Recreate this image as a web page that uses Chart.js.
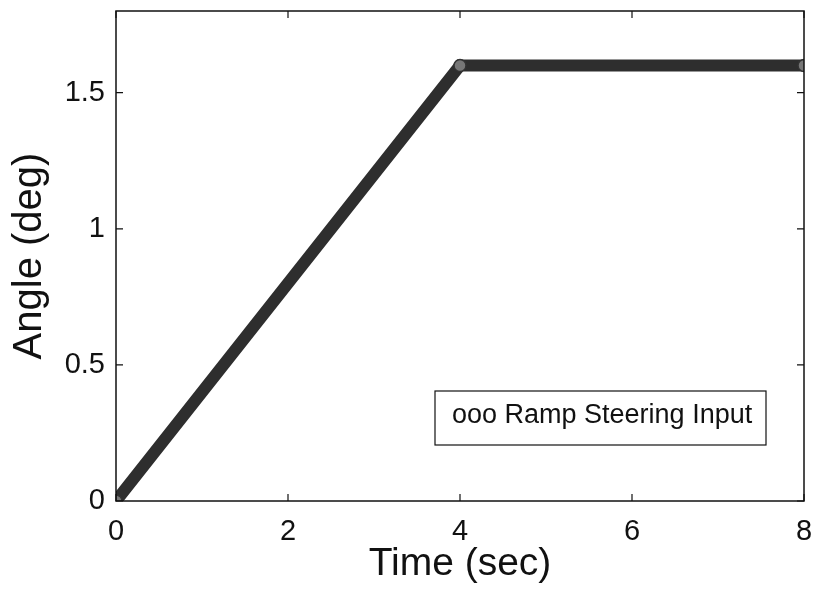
<!DOCTYPE html>
<html>
<head>
<meta charset="utf-8">
<script src="https://cdn.jsdelivr.net/npm/chart.js@4"></script>
<style>
  html, body { margin: 0; padding: 0; background: #fff; }
</style>
</head>
<body>
<canvas id="js-ramp" width="815" height="594"></canvas>
<script>
// breakpoints of the ramp steering input
const timeSec = [0, 4, 8];
const angleDeg = [0, 1.6, 1.6];
const xTicks = [0, 2, 4, 6, 8];
const yTicks = [0, 0.5, 1, 1.5];
const legendText = 'ooo Ramp Steering Input';

const fontFamily = '"Liberation Sans", Arial, Helvetica, sans-serif';

const points = timeSec.map((t, i) => ({ x: t, y: angleDeg[i] }));

// MATLAB style box, inward ticks and the legend box
const boxPlugin = {
  id: 'box',
  afterDraw(chart) {
    const { ctx, chartArea: a, scales } = chart;
    ctx.save();
    ctx.strokeStyle = '#111';
    ctx.lineWidth = 1.5;
    ctx.strokeRect(a.left, a.top, a.right - a.left, a.bottom - a.top);
    ctx.lineWidth = 1.2;
    ctx.beginPath();
    xTicks.forEach((v) => {
      const px = scales.x.getPixelForValue(v);
      ctx.moveTo(px, a.bottom); ctx.lineTo(px, a.bottom - 7);
      ctx.moveTo(px, a.top); ctx.lineTo(px, a.top + 7);
    });
    yTicks.forEach((v) => {
      const py = scales.y.getPixelForValue(v);
      ctx.moveTo(a.left, py); ctx.lineTo(a.left + 7, py);
      ctx.moveTo(a.right, py); ctx.lineTo(a.right - 7, py);
    });
    ctx.stroke();

    // legend
    const lx = 435;
    const ly = 391;
    ctx.fillStyle = '#fff';
    ctx.fillRect(lx, ly, 331, 54);
    ctx.lineWidth = 1.2;
    ctx.strokeRect(lx, ly, 331, 54);
    ctx.fillStyle = '#111';
    ctx.font = `27px ${fontFamily}`;
    ctx.textBaseline = 'alphabetic';
    ctx.fillText(legendText, 452, 423);
    ctx.restore();
  },
};

new Chart(document.getElementById('js-ramp'), {
  type: 'line',
  data: {
    datasets: [
      {
        label: 'Ramp Steering Input',
        data: points,
        borderColor: '#2e2e2e',
        borderWidth: 12,
        pointRadius: 6,
        pointBorderColor: '#333',
        pointBackgroundColor: '#777',
        pointBorderWidth: 1.5,
        fill: false,
        tension: 0,
      },
      {
        label: 'texture',
        data: points,
        borderColor: 'rgba(140,140,140,0.7)',
        borderWidth: 3,
        borderDash: [2, 5],
        pointRadius: 0,
        fill: false,
        tension: 0,
      },
    ],
  },
  options: {
    responsive: false,
    animation: false,
    devicePixelRatio: 1,
    layout: { padding: { top: 11, right: 11, left: 6, bottom: 6 } },
    plugins: {
      legend: { display: false },
      tooltip: { enabled: false },
    },
    scales: {
      x: {
        type: 'linear',
        min: 0,
        max: 8,
        afterBuildTicks: (scale) => { scale.ticks = xTicks.map((v) => ({ value: v })); },
        afterFit: (scale) => {
          scale.height = 87;
          scale.paddingLeft = 0;
          scale.paddingRight = 0;
        },
        grid: { display: false },
        border: { display: false },
        ticks: {
          color: '#111',
          padding: 6,
          autoSkip: false,
          maxRotation: 0,
          font: { family: fontFamily, size: 29 },
        },
        title: {
          display: true,
          text: 'Time (sec)',
          color: '#111',
          padding: { top: 0, bottom: 0 },
          font: { family: fontFamily, size: 39 },
        },
      },
      y: {
        type: 'linear',
        min: 0,
        max: 1.8,
        afterBuildTicks: (scale) => { scale.ticks = yTicks.map((v) => ({ value: v })); },
        afterFit: (scale) => {
          scale.width = 110;
          scale.paddingTop = 0;
          scale.paddingBottom = 0;
        },
        grid: { display: false },
        border: { display: false },
        ticks: {
          color: '#111',
          padding: 3,
          autoSkip: false,
          font: { family: fontFamily, size: 29 },
          callback: (v) => String(v),
        },
        title: {
          display: true,
          text: 'Angle (deg)',
          color: '#111',
          padding: { top: 0, bottom: 0 },
          font: { family: fontFamily, size: 40 },
        },
      },
    },
  },
  plugins: [boxPlugin],
});
</script>
</body>
</html>
